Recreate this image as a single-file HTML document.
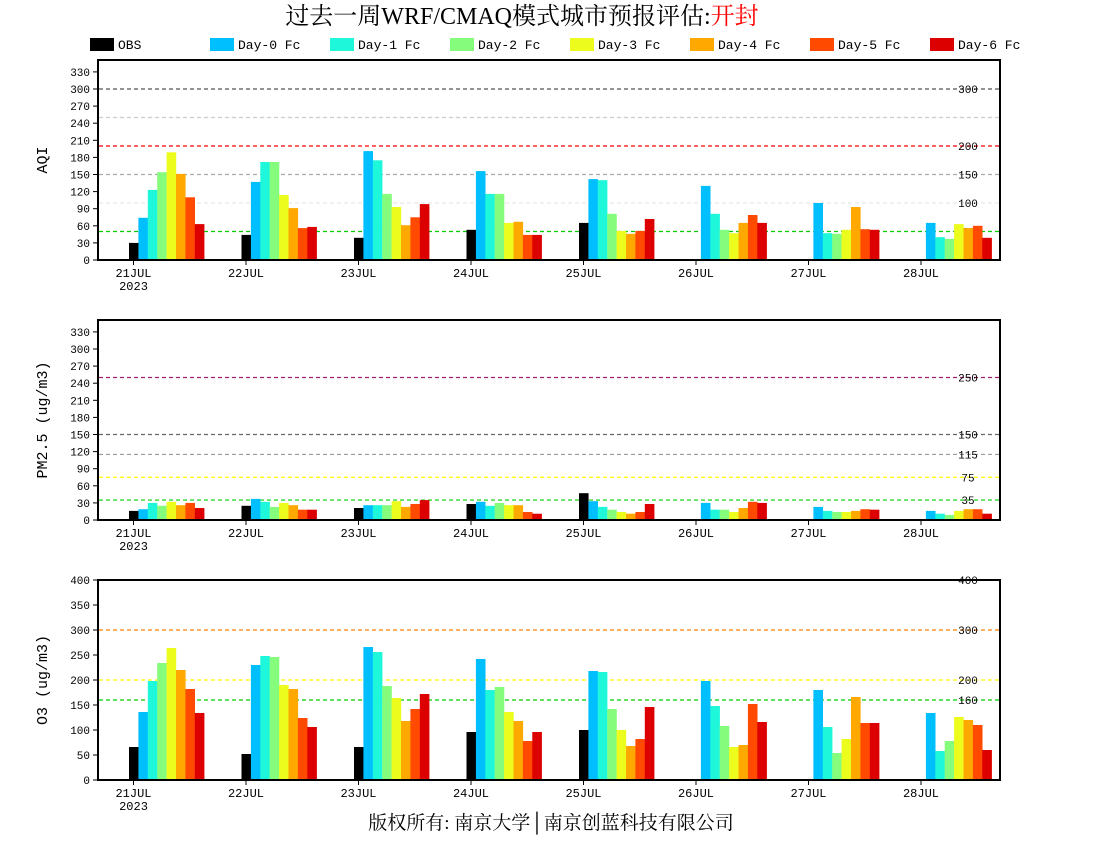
<!DOCTYPE html>
<html><head><meta charset="utf-8"><style>
body{margin:0;background:#fff;width:1100px;height:850px;overflow:hidden}
svg text{font-family:"Liberation Mono","Noto Sans CJK SC",monospace}
</style></head><body>
<svg id="s" width="1100" height="850" xmlns="http://www.w3.org/2000/svg">
<text x="522" y="24" font-size="24" text-anchor="middle" style="font-family:'Liberation Serif','Noto Serif CJK SC',serif">过去一周WRF/CMAQ模式城市预报评估:<tspan fill="#ff0000">开封</tspan></text>
<text x="551" y="829" font-size="19" text-anchor="middle" style="font-family:'Liberation Serif','Noto Serif CJK SC',serif">版权所有: 南京大学│南京创蓝科技有限公司</text>
</svg>
<script>
const s=document.getElementById('s');let h='';
const cols=['#000000','#00bfff','#1ef7d9','#86fc7c','#ecfc1c','#ffa800','#ff4a00','#dd0000'];
const names=['OBS','Day-0 Fc','Day-1 Fc','Day-2 Fc','Day-3 Fc','Day-4 Fc','Day-5 Fc','Day-6 Fc'];
names.forEach((n,i)=>{let x=i==0?90:210+(i-1)*120;h+=`<rect x="${x}" y="38" width="24" height="13" fill="${cols[i]}"/><text x="${x+28}" y="49" font-size="13">${n}</text>`;});
const panels=[
{y0:260,k:0.57,ticks:[0,30,60,90,120,150,180,210,240,270,300,330],lab:'AQI',
lines:[[300,'#555'],[250,'#ccc'],[200,'#ff0000'],[150,'#aaa'],[100,'#e8e8e8'],[50,'#00cc00']],rl:[300,200,150,100,50],
d:[[30,74,123,154,189,151,110,63],[44,137,172,172,114,91,56,58],[39,191,175,116,93,61,75,98],[53,156,116,116,65,67,44,44],[65,142,140,81,51,46,51,72],[0,130,81,53,47,65,79,65],[0,100,47,46,53,93,54,53],[0,65,40,37,63,56,60,39]]},
{y0:520,k:0.57,ticks:[0,30,60,90,120,150,180,210,240,270,300,330],lab:'PM2.5 (ug/m3)',
lines:[[250,'#a0206a'],[150,'#666'],[115,'#999'],[75,'#ffff00'],[35,'#00cc00']],rl:[250,150,115,75,35],
d:[[16,19,30,25,32,26,30,21],[25,37,32,23,30,26,18,18],[21,26,26,26,33,23,28,35],[28,32,25,30,26,26,14,11],[47,33,23,18,14,11,14,28],[0,30,18,18,14,21,32,30],[0,23,16,14,14,16,19,18],[0,16,11,9,16,19,19,11]]},
{y0:780,k:0.5,ticks:[0,50,100,150,200,250,300,350,400],lab:'O3 (ug/m3)',
lines:[[400,'#ff0000'],[300,'#ff8000'],[200,'#ffff00'],[160,'#00cc00']],rl:[400,300,200,160],
d:[[66,136,198,234,264,220,182,134],[52,230,248,246,190,182,124,106],[66,266,256,188,164,118,142,172],[96,242,180,186,136,118,78,96],[100,218,216,142,100,68,82,146],[0,198,148,108,66,70,152,116],[0,180,106,54,82,166,114,114],[0,134,58,78,126,120,110,60]]}];
const days=['21JUL','22JUL','23JUL','24JUL','25JUL','26JUL','27JUL','28JUL'];
panels.forEach(p=>{
 const top=p.y0-200;
 p.lines.forEach(([v,c])=>{const y=p.y0-v*p.k;h+=`<line x1="99" x2="999" y1="${y}" y2="${y}" stroke="${c}" stroke-width="1.2" stroke-dasharray="4,3"/>`;});
 p.rl.forEach(v=>{const y=p.y0-v*p.k;h+=`<text x="968" y="${y+4}" font-size="11" text-anchor="middle">${v}</text>`;});
 p.d.forEach((g,di)=>{const x0=129+di*112.5;g.forEach((v,i)=>{if(v>0)h+=`<rect x="${(x0+i*9.4).toFixed(1)}" y="${(p.y0-v*p.k).toFixed(1)}" width="9.6" height="${(v*p.k).toFixed(1)}" fill="${cols[i]}"/>`;});
  const tx=133.5+di*112.5;h+=`<line x1="${tx}" x2="${tx}" y1="${p.y0}" y2="${p.y0+5}" stroke="#000"/><text x="${tx}" y="${p.y0+17}" font-size="12" text-anchor="middle">${days[di]}</text>`;});
 h+=`<text x="133.5" y="${p.y0+30}" font-size="12" text-anchor="middle">2023</text>`;
 p.ticks.forEach(v=>{const y=p.y0-v*p.k;h+=`<line x1="93" x2="98" y1="${y}" y2="${y}" stroke="#000"/><text x="90" y="${y+4}" font-size="11" text-anchor="end">${v}</text>`;});
 h+=`<rect x="98" y="${top}" width="902" height="200" fill="none" stroke="#000" stroke-width="2"/>`;
 h+=`<text transform="translate(47,${top+100}) rotate(-90)" font-size="15" text-anchor="middle">${p.lab}</text>`;
});
s.insertAdjacentHTML('beforeend',h);
</script>
</body></html>
